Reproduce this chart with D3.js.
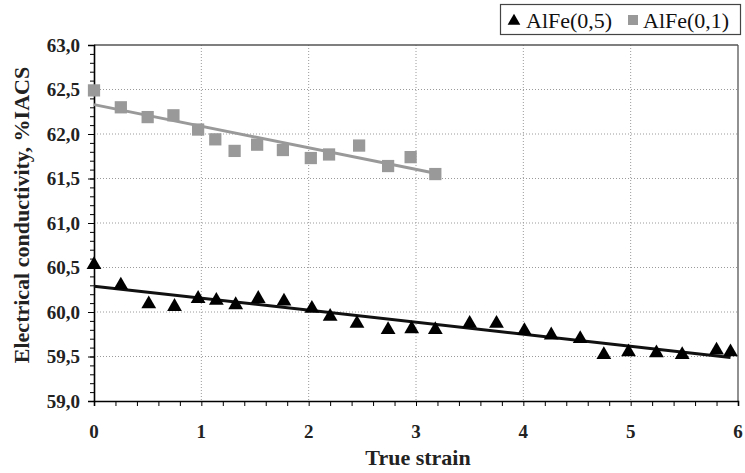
<!DOCTYPE html>
<html>
<head>
<meta charset="utf-8">
<script src="https://cdn.jsdelivr.net/npm/d3@7/dist/d3.min.js"></script>
<style>
  html, body { margin: 0; padding: 0; background: #fff; }
  svg { display: block; }
  text { font-family: "Liberation Serif", "DejaVu Serif", serif; }
</style>
</head>
<body>
<svg id="chart" width="745" height="473"></svg>
<script>
// ---- data ----
const seriesNames = ["AlFe(0,5)", "AlFe(0,1)"];
const strain05 = [0, 0.25, 0.51, 0.75, 0.97, 1.14, 1.32, 1.53, 1.77, 2.03, 2.20, 2.45, 2.74, 2.96, 3.18, 3.50, 3.75, 4.01, 4.26, 4.53, 4.75, 4.98, 5.24, 5.48, 5.80, 5.93];
const cond05   = [60.53, 60.30, 60.09, 60.06, 60.15, 60.13, 60.08, 60.15, 60.12, 60.04, 59.95, 59.87, 59.80, 59.81, 59.80, 59.87, 59.87, 59.79, 59.74, 59.70, 59.52, 59.55, 59.54, 59.52, 59.57, 59.55];
const strain01 = [0, 0.25, 0.50, 0.74, 0.97, 1.13, 1.31, 1.52, 1.76, 2.02, 2.19, 2.47, 2.74, 2.95, 3.18];
const cond01   = [62.49, 62.30, 62.19, 62.21, 62.05, 61.94, 61.81, 61.88, 61.82, 61.73, 61.77, 61.87, 61.64, 61.74, 61.55];
const trend05 = [[0, 60.29], [5.93, 59.49]];
const trend01 = [[0, 62.33], [3.18, 61.56]];
const xTicks = [0, 1, 2, 3, 4, 5, 6];
const yTicks = [59.0, 59.5, 60.0, 60.5, 61.0, 61.5, 62.0, 62.5, 63.0];
const xTitle = "True strain";
const yTitle = "Electrical conductivity, %IACS";

// ---- layout ----
const svg = d3.select("#chart");
const L = 94, R = 738, T = 45, B = 401;
const x = d3.scaleLinear().domain([0, 6]).range([L, R]);
const y = d3.scaleLinear().domain([59, 63]).range([B, T]);
const fmtY = v => d3.format(".1f")(v).replace(".", ",");

// grid
const grid = svg.append("g");
grid.selectAll("line.gx").data(xTicks.filter(v => v > 0 && v < 6)).join("line")
  .attr("x1", d => x(d)).attr("x2", d => x(d)).attr("y1", T).attr("y2", B)
  .attr("stroke", "#9a9a9a").attr("stroke-width", 1).attr("stroke-dasharray", "1,2");
grid.selectAll("line.gy").data(yTicks.filter(v => v > 59 && v < 63)).join("line")
  .attr("x1", L).attr("x2", R).attr("y1", d => y(d)).attr("y2", d => y(d))
  .attr("stroke", "#9a9a9a").attr("stroke-width", 1).attr("stroke-dasharray", "1,2");

// frame top/right
svg.append("line").attr("x1", L).attr("x2", R).attr("y1", T).attr("y2", T).attr("stroke", "#555").attr("stroke-width", 1.3);
svg.append("line").attr("x1", R).attr("x2", R).attr("y1", T).attr("y2", B).attr("stroke", "#555").attr("stroke-width", 1.3);

// axes
const xAxis = d3.axisBottom(x).tickValues(d3.range(0, 6.001, 0.2)).tickSize(5).tickFormat("");
const gx = svg.append("g").attr("transform", `translate(0,${B})`).call(xAxis);
gx.select(".domain").attr("stroke", "#000").attr("stroke-width", 1.6);
gx.selectAll(".tick line").attr("stroke", "#000").attr("stroke-width", 1);
svg.append("g").selectAll("text").data(xTicks).join("text")
  .attr("x", d => x(d)).attr("y", 438)
  .attr("text-anchor", "middle").attr("font-weight", "bold").attr("font-size", 19)
  .attr("fill", "#222").text(d => d);

const yAxisMinor = d3.axisLeft(y).tickValues(d3.range(59, 63.001, 0.1)).tickSize(4).tickFormat("");
const gyMinor = svg.append("g").attr("transform", `translate(${L},0)`).call(yAxisMinor);
gyMinor.select(".domain").remove();
gyMinor.selectAll(".tick line").attr("stroke", "#000").attr("stroke-width", 1);
const yAxis = d3.axisLeft(y).tickValues(yTicks).tickSize(6).tickPadding(8).tickFormat(fmtY);
const gy = svg.append("g").attr("transform", `translate(${L},0)`).call(yAxis);
gy.select(".domain").attr("stroke", "#000").attr("stroke-width", 1.6);
gy.selectAll(".tick line").attr("stroke", "#000").attr("stroke-width", 1);
gy.selectAll(".tick text").attr("font-family", "Liberation Serif, serif")
  .attr("font-weight", "bold").attr("font-size", 19).attr("fill", "#222");

// titles
svg.append("text").attr("x", (L + R) / 2 + 2).attr("y", 465)
  .attr("text-anchor", "middle").attr("font-weight", "bold").attr("font-size", 22)
  .attr("fill", "#222").text(xTitle);
svg.append("text").attr("transform", `translate(29,${(T + B) / 2 - 8}) rotate(-90)`)
  .attr("text-anchor", "middle").attr("font-weight", "bold").attr("font-size", 22)
  .attr("fill", "#222").text(yTitle);

// trend lines
const lineGen = d3.line().x(d => x(d[0])).y(d => y(d[1]));
svg.append("path").datum(trend01).attr("d", lineGen).attr("stroke", "#999").attr("stroke-width", 3).attr("fill", "none");
svg.append("path").datum(trend05).attr("d", lineGen).attr("stroke", "#111").attr("stroke-width", 3).attr("fill", "none");

// points
const sq = d3.symbol().type(d3.symbolSquare).size(150);
const tri = d3.symbol().type(d3.symbolTriangle).size(95);
svg.append("g").selectAll("path").data(strain01.map((s, i) => [s, cond01[i]])).join("path")
  .attr("d", sq).attr("transform", d => `translate(${x(d[0])},${y(d[1])})`).attr("fill", "#999");
svg.append("g").selectAll("path").data(strain05.map((s, i) => [s, cond05[i]])).join("path")
  .attr("d", tri).attr("transform", d => `translate(${x(d[0])},${y(d[1])})`).attr("fill", "#000");

// legend
const lg = svg.append("g");
lg.append("rect").attr("x", 500.5).attr("y", 4.5).attr("width", 240).attr("height", 30)
  .attr("fill", "#fff").attr("stroke", "#444").attr("stroke-width", 1.2);
lg.append("path").attr("d", d3.symbol().type(d3.symbolTriangle).size(70)).attr("transform", "translate(514,21)").attr("fill", "#000");
lg.append("text").attr("x", 526).attr("y", 28).attr("font-size", 22).attr("fill", "#111").text(seriesNames[0]);
lg.append("path").attr("d", d3.symbol().type(d3.symbolSquare).size(100)).attr("transform", "translate(633,20)").attr("fill", "#999");
lg.append("text").attr("x", 643).attr("y", 28).attr("font-size", 22).attr("fill", "#111").text(seriesNames[1]);
</script>
</body>
</html>
